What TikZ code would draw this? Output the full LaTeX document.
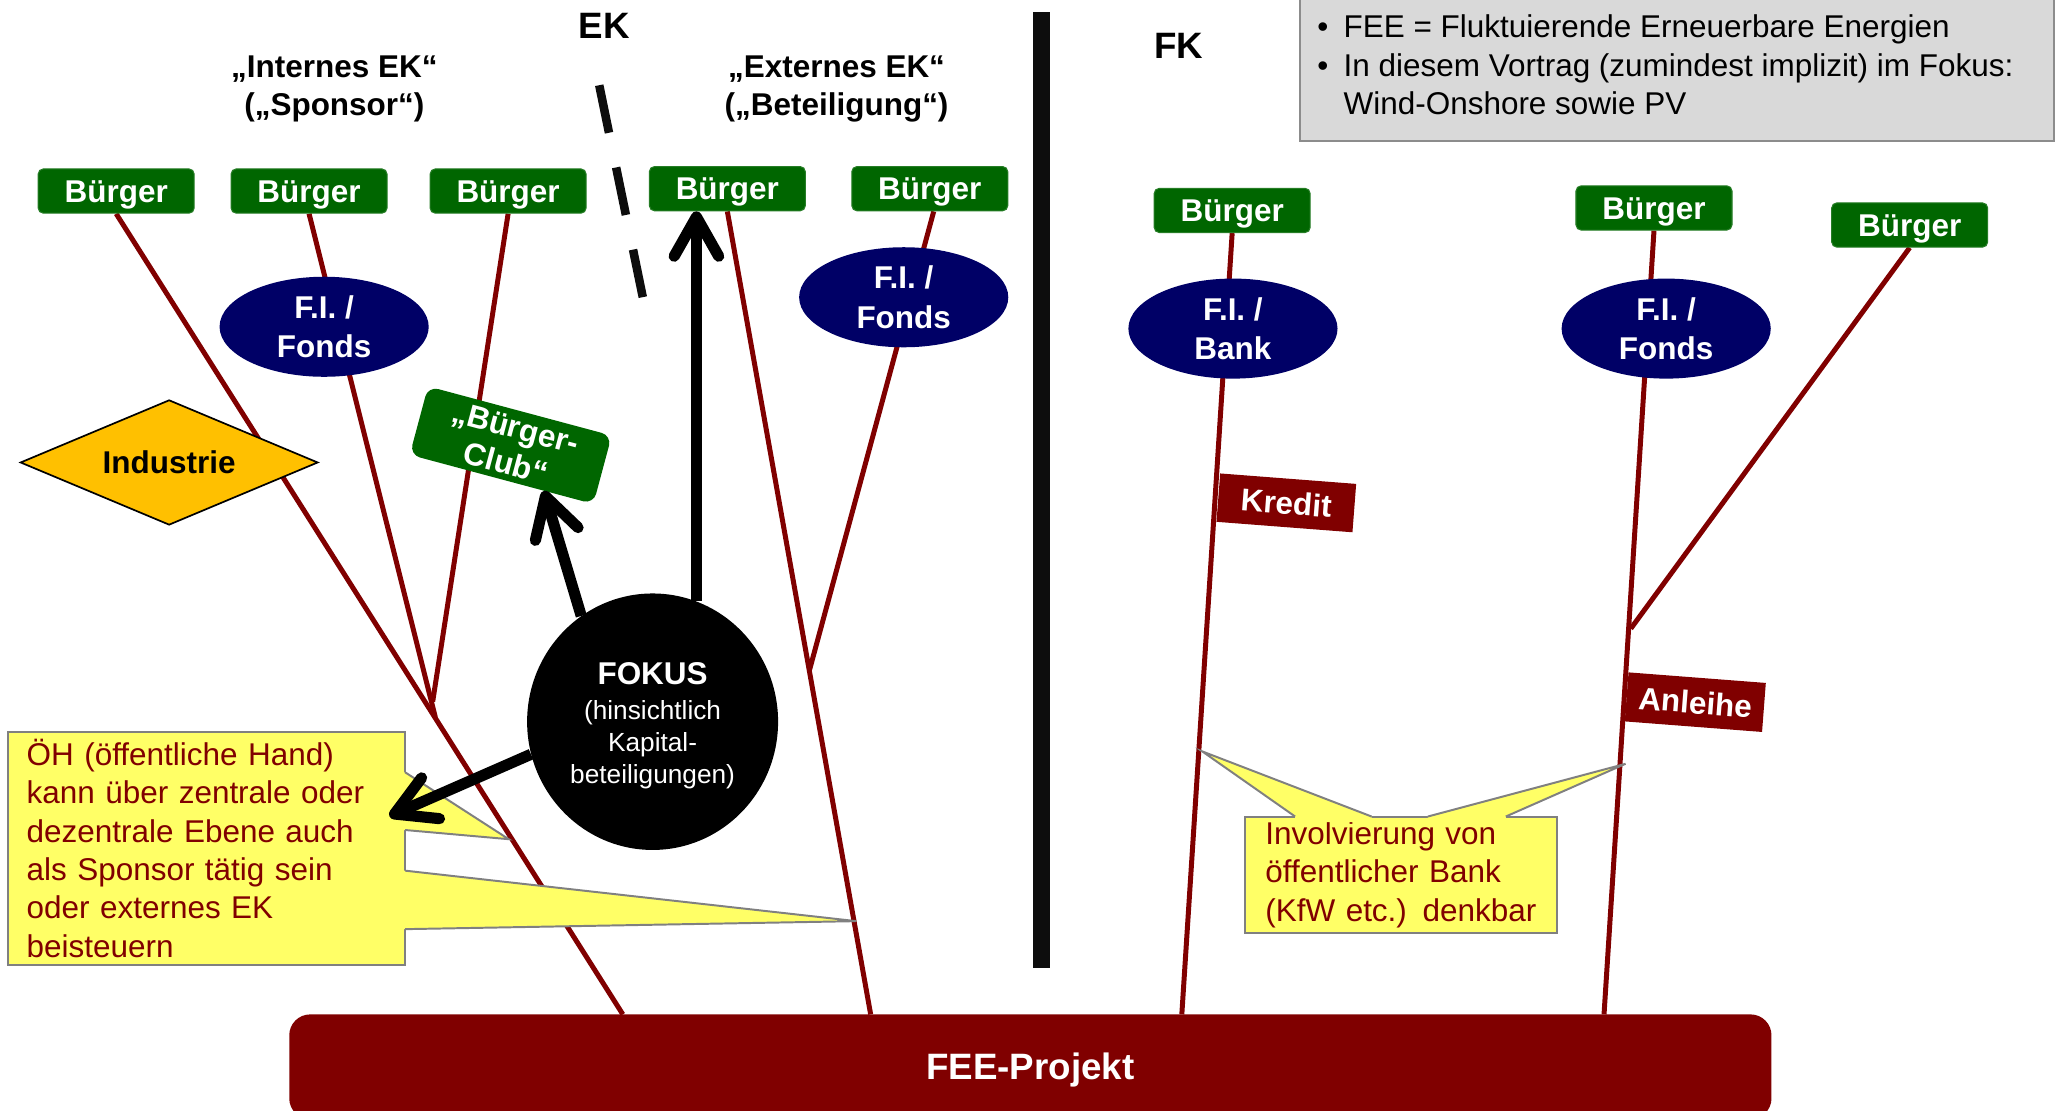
\documentclass[tikz,border=0pt]{standalone}
\usepackage{fontspec}
\setmainfont{Liberation Sans}
\usetikzlibrary{shapes.geometric,arrows.meta,calc}
\definecolor{bgreen}{RGB}{0,102,0}
\definecolor{navy}{RGB}{0,0,102}
\definecolor{dred}{RGB}{128,0,0}
\definecolor{cyellow}{RGB}{255,255,102}
\definecolor{gold}{RGB}{255,192,0}
\definecolor{boxgray}{RGB}{217,217,217}
\definecolor{linegray}{RGB}{140,140,140}
\definecolor{cgray}{RGB}{128,128,128}
\newcommand\setfs[2]{\fontsize{#1bp}{#2bp}\selectfont}
\pgfdeclarelayer{linklayer}
\pgfsetlayers{linklayer,main}
\begin{document}
\begin{tikzpicture}[x=1bp, y=-1bp,
  buerger/.style={rectangle, rounded corners=4bp, fill=bgreen, draw=bgreen!85!white, line width=0.8bp,
    minimum width=119bp, minimum height=33.8bp, inner sep=0pt, text=white,
    text height=17bp, text depth=0pt, font=\setfs{24}{28}\bfseries},
  fonds/.style={ellipse, fill=navy, minimum width=159.5bp, minimum height=76.3bp, inner sep=0pt,
    text=white, align=center, font=\setfs{24}{30}\bfseries},
  link/.style={draw=dred, line width=3.8bp},
  tag/.style={rectangle, fill=dred, minimum width=104bp, minimum height=37bp, inner sep=0pt,
    text=white, text height=17.5bp, text depth=0pt, font=\setfs{24}{28}\bfseries, rotate=-4.4},
  bigarrow/.style={draw=black, line width=8.5bp, -{Straight Barb[length=30bp,width=34bp,round]}},
  callout/.style={rectangle, fill=cyellow, draw=cgray, line width=1.5bp, text=dred, align=left,
    font=\setfs{24}{29.2}},
  pointerfill/.style={fill=cyellow},
  pointeredge/.style={draw=cgray, line width=1.5bp, line join=miter},
  heading/.style={font=\setfs{24}{29}\bfseries, align=center, inner sep=0pt},
  bigheading/.style={font=\setfs{28}{32}\bfseries, inner sep=0pt},
  infoline/.style={font=\setfs{24}{29}, anchor=base west, inner sep=0pt},
  separator/.style={draw=black!95, line width=13bp}
]
\useasboundingbox (0,0) rectangle (1568,847);

% --- coordinates (junctions and free ends)
\coordinate (p1) at (475,773.6);
\coordinate (p2) at (664,773.6);
\coordinate (p3) at (901.3,773.6);
\coordinate (p4) at (1223.3,773.6);
\coordinate (j1) at (332,547);
\coordinate (j3) at (330,535);
\coordinate (j2) at (617.5,510.5);
\coordinate (j4) at (1243.7,479.4);
\coordinate (d1) at (457,65);
\coordinate (d2) at (490.5,228);
\coordinate (s1) at (794.5,9.5);
\coordinate (s2) at (794.5,738);

% --- Bürger nodes
\node[buerger] (b1) at (88.6,145.7) {Bürger};
\node[buerger] (b2) at (235.7,145.7) {Bürger};
\node[buerger] (b3) at (387.5,145.7) {Bürger};
\node[buerger] (b4) at (554.7,143.9) {Bürger};
\node[buerger] (b5) at (709.1,143.9) {Bürger};
\node[buerger] (b6) at (939.7,160.5) {Bürger};
\node[buerger] (b7) at (1261.4,158.6) {Bürger};
\node[buerger] (b8) at (1456.4,171.6) {Bürger};

% --- red links (behind all nodes)
\begin{pgfonlayer}{linklayer}
\draw[link] (b1.south) -- (p1);
\draw[link] (b2.south) -- (j1);
\draw[link] (b3.south) -- (j3);
\draw[link] (b4.south) -- (p2);
\draw[link] ($(b5.south)+(3,0)$) -- (j2);
\draw[link] (b6.south) -- (p3);
\draw[link] (b7.south) -- (p4);
\draw[link] (b8.south) -- (j4);
\end{pgfonlayer}

\node[fonds] (e1) at (247.2,249.2) {F.I. /\\Fonds};
\node[fonds] (e2) at (689.2,226.7) {F.I. /\\Fonds};
\node[fonds] (e3) at (940.3,250.6) {F.I. /\\Bank};
\node[fonds] (e4) at (1270.7,250.6) {F.I. /\\Fonds};

\node[diamond, fill=gold, draw=black, line width=1.3bp, minimum width=227bp, minimum height=95.4bp,
      aspect=2.38, inner sep=0pt, font=\setfs{24}{28}\bfseries] (ind) at (129,352.7) {Industrie};

\node[rectangle, rounded corners=8bp, fill=bgreen, minimum width=145bp, minimum height=54bp,
      inner sep=0pt, rotate=-15, align=center, text=white, font=\setfs{24}{28}\bfseries]
      (club) at (389.5,339.5) {„Bürger-\\Club“};

\node[tag] (kredit) at (981,383.5) {Kredit};
\node[tag, minimum width=105bp, minimum height=37.5bp] (anleihe) at (1292.9,535.5) {Anleihe};

\node[rectangle, rounded corners=16bp, fill=dred, minimum width=1130.4bp, minimum height=80bp,
      text height=20bp, text depth=0pt, text=white, font=\setfs{28}{32}\bfseries]
      (proj) at (785.8,813.6) {FEE-Projekt};

% --- headings
\node[bigheading] (ek) at (461,19.8) {EK};
\node[bigheading] (fk) at (899,35) {FK};
\node[heading] (intek) at (255,68) {„Internes EK“\\(„Sponsor“)};
\node[heading] (extek) at (638,68) {„Externes EK“\\(„Beteiligung“)};

% --- separators
\draw[draw=black!95, line width=6.5bp, dash pattern=on 37bp off 27bp] (d1) -- (d2);
\draw[separator] (s1) -- (s2);

% --- info box
\node[rectangle, fill=boxgray, draw=linegray, line width=1.5bp, minimum width=575bp, minimum height=115bp,
      anchor=north west, inner sep=0pt] (info) at (991,-8) {};
\node[infoline] (i1) at (1004.5,28.6) {\makebox[20bp][l]{•}FEE = Fluktuierende Erneuerbare Energien};
\node[infoline] (i2) at (1004.5,58) {\makebox[20bp][l]{•}In diesem Vortrag (zumindest implizit) im Fokus:};
\node[infoline] (i3) at (1024.5,87.3) {Wind-Onshore sowie PV};

% --- callouts
\coordinate (t1) at (388,640);
\coordinate (t2) at (653,702.5);
\coordinate (t3) at (916.8,573);
\coordinate (t4) at (1239.7,582.5);

\node[callout, minimum width=303bp, minimum height=178bp, text width=274.4bp, inner xsep=14.3bp]
  (oh) at (157.5,647) {ÖH (öffentliche Hand)\\kann über zentrale oder\\dezentrale Ebene auch\\als Sponsor tätig sein\\oder externes EK\\beisteuern};
\fill[pointerfill] (304,589) -- (309,589) -- (t1) -- (309,633) -- (304,633) -- cycle;
\draw[pointeredge] (309,589) -- (t1) -- (309,633);
\fill[pointerfill] (304,664) -- (309,664) -- (t2) -- (309,708.6) -- (304,708.6) -- cycle;
\draw[pointeredge] (309,664) -- (t2) -- (309,708.6);

\node[callout, minimum width=238.5bp, minimum height=88.5bp, text width=207bp, inner xsep=15.7bp]
  (inv) at (1068.5,667) {Involvierung von\\öffentlicher Bank\\(KfW etc.) denkbar};
\fill[pointerfill] (987.7,627) -- (987.7,622.7) -- (t3) -- (1046,622.7) -- (1046,627) -- cycle;
\draw[pointeredge] (987.7,622.7) -- (t3) -- (1046,622.7);
\fill[pointerfill] (1089,627) -- (1089,622.7) -- (t4) -- (1148.4,622.7) -- (1148.4,627) -- cycle;
\draw[pointeredge] (1089,622.7) -- (t4) -- (1148.4,622.7);

% --- focus
\node[ellipse, fill=black, minimum width=191.4bp, minimum height=195.6bp, inner sep=0pt]
      (fokus) at (497.7,550.4) {};
\node[text=white, align=center, font=\setfs{20}{24.5}, inner sep=0pt] (fokustext) at (497.7,553.4)
      {{\setfs{24}{24.5}\bfseries FOKUS}\\[2bp](hinsichtlich\\Kapital-\\beteiligungen)};
\coordinate (ohtip) at (297,622.5);
\draw[bigarrow] (fokus.70) -- (fokus.70 |- b4.south);
\draw[bigarrow] (fokus.124) -- ($(club.south)!0.46!(club.south east)$);
\draw[bigarrow] (fokus.195) -- (ohtip);
\end{tikzpicture}
\end{document}
